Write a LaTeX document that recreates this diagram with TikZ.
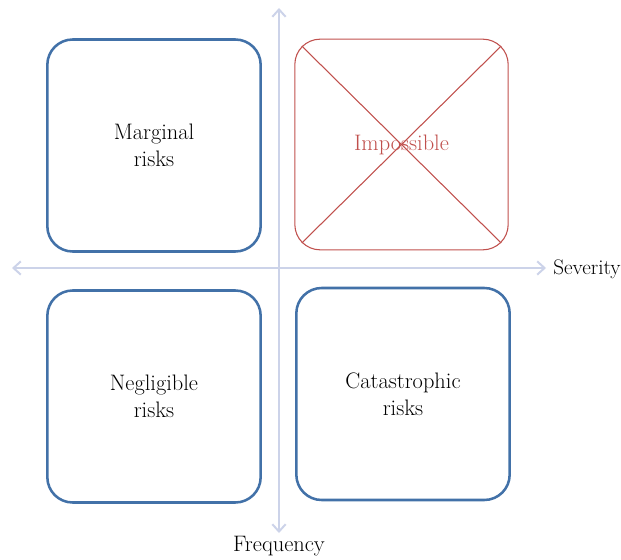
\documentclass[tikz,border=0pt]{standalone}
\usepackage{tikz}
\usetikzlibrary{arrows.meta, calc}

\definecolor{riskblue}{RGB}{66,113,168}
\definecolor{riskred}{RGB}{192,80,77}
\definecolor{axisgray}{RGB}{204,211,233}

\begin{document}
\begin{tikzpicture}[x=0.75pt, y=-0.75pt, font=\fontsize{16.8}{20.5}\selectfont,
    risk_box/.style ={rectangle, draw=riskblue, line width=1.9pt, rounded corners=19pt,
      minimum width=160pt, minimum height=159pt, align=center},
    void_box/.style ={rectangle, draw=riskred, line width=0.8pt, rounded corners=19pt,
      minimum width=160pt, minimum height=158pt, align=center, text=riskred},
    axis_line/.style ={draw=axisgray, line width=1.5pt, {Straight Barb[length=5.5pt, width=10pt]}-{Straight Barb[length=5.5pt, width=10pt]}}]
    \useasboundingbox (0,0) rectangle (621,560);
    % axes
    \coordinate (top) at (279,8);
    \coordinate (bottom) at (279,533);
    \coordinate (left) at (12,268);
    \coordinate (right) at (546,268);
    \draw[axis_line] (bottom) -- (top);
    \draw[axis_line] (left) -- (right);
    \node[anchor=west, inner sep=0pt, font=\fontsize{15.8}{19}\selectfont] (severity) at (553,269) {Severity};
    \node (frequency) at (279,546) {Frequency};
    % quadrants
    \node[risk_box] (marginal) at (154,145.5) {Marginal\\risks};
    \node[void_box] (impossible) at (401.5,144.5) {Impossible};
    \node[risk_box] (negligible) at (154,396.5) {Negligible\\risks};
    \node[risk_box] (catastrophic) at (403,394) {Catastrophic\\risks};
    \draw[riskred, line width=0.8pt]
          ($(impossible.north west)!0.035!(impossible.south east)$) -- ($(impossible.north west)!0.965!(impossible.south east)$)
          ($(impossible.north east)!0.035!(impossible.south west)$) -- ($(impossible.north east)!0.965!(impossible.south west)$);
\end{tikzpicture}
\end{document}
